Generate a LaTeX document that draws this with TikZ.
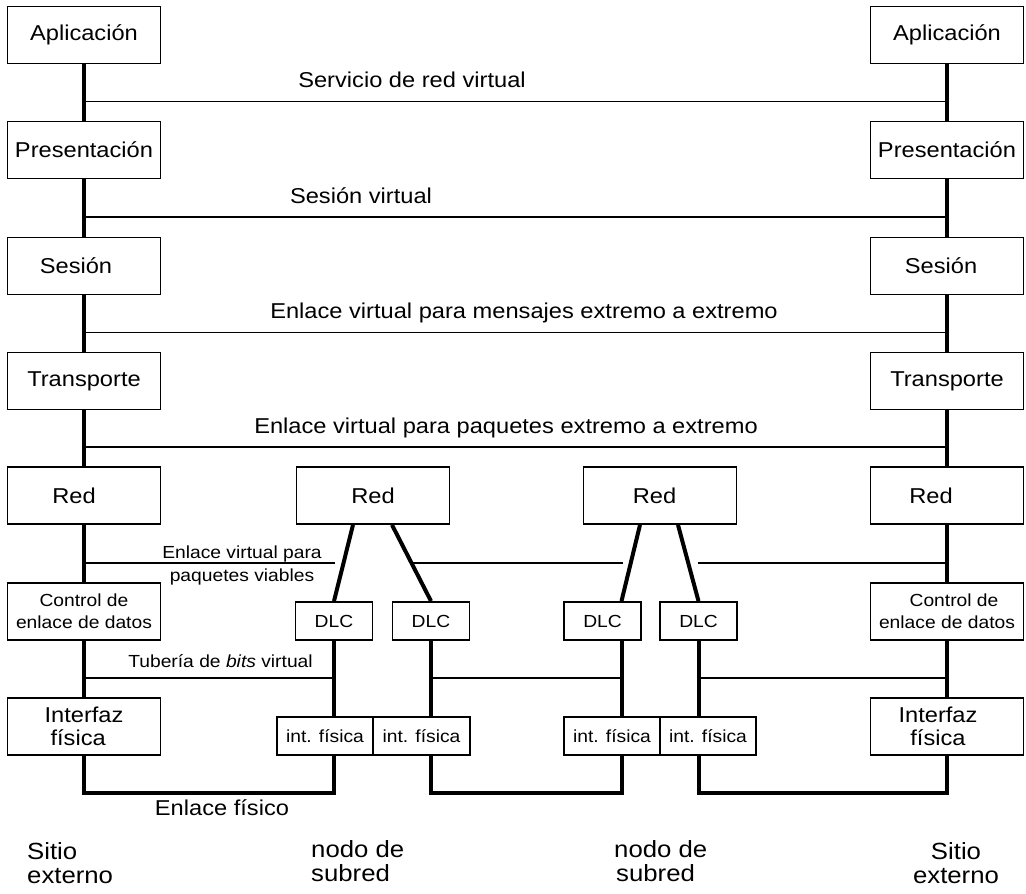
\documentclass[tikz,border=0pt]{standalone}
\usepackage{fontspec}
\setmainfont{Liberation Sans}[FakeStretch=1.1]
\usetikzlibrary{calc}

\newcommand\layerfont{\fontsize{21.5}{23}\selectfont}
\newcommand\smallfont{\fontsize{17.5}{22}\selectfont}
\newcommand\linkfont{\fontsize{17.5}{23.5}\selectfont}
\newcommand\sitefont{\fontsize{23.4}{24.5}\selectfont}

\tikzset{
  layer/.style={draw, line width=1.8pt, inner sep=0pt, minimum width=153pt,
                minimum height=57pt, align=center, font=\layerfont},
  dlcbox/.style={draw, line width=1.8pt, inner sep=0pt, minimum width=77pt,
                 minimum height=38pt, font=\smallfont},
  phybox/.style={draw, line width=1.8pt, inner sep=0pt, minimum width=96pt,
                 minimum height=38pt, font=\smallfont},
  stack/.style={line width=4pt},
  virt/.style={line width=1.8pt},
  tag/.style={inner sep=0pt, font=\layerfont},
  site/.style={inner sep=0pt, font=\sitefont}
}

\begin{document}
\begin{tikzpicture}[x=1pt, y=-1pt]
\useasboundingbox (0,0) rectangle (1026,894);

% ---- end system, left
\node[layer] (aL) at (84,35)    {Aplicación};
\node[layer] (pL) at (84,150)   {Presentación};
\node[layer] (sL) at (84,266)   {Sesión\hspace*{16pt}};
\node[layer] (tL) at (84,381)   {Transporte};
\node[layer] (nL) at (84,495.5) {Red\hspace*{20pt}};
\node[layer, font=\smallfont] (cL) at (84,611.5) {Control de\\enlace de datos};
\node[layer, align=left] (fL) at (84,726.5) {Interfaz\\\hspace*{6pt}física};

% ---- end system, right
\node[layer] (aR) at (947,35)    {Aplicación};
\node[layer] (pR) at (947,150)   {Presentación};
\node[layer] (sR) at (947,266)   {Sesión\hspace*{12pt}};
\node[layer] (tR) at (947,381)   {Transporte};
\node[layer] (nR) at (947,495.5) {Red\hspace*{32pt}};
\node[layer, font=\smallfont] (cR) at (947,611.5) {\hspace*{14pt}Control de\\enlace de datos};
\node[layer] (fR) at (947,726.5) {Interfaz\hspace*{18pt}\\física\hspace*{18pt}};

% ---- subnet node 1
\node[layer] (n2) at (373,495.5) {Red};
\node[dlcbox] (d1) at (334,621) {DLC};
\node[dlcbox] (d2) at (431,621) {DLC};
\node[phybox] (i1) at (325,736) {int. física};
\node[phybox, minimum width=97pt] (i2) at (421.5,736) {int. física};

% ---- subnet node 2
\node[layer] (n3) at (660,495.5) {Red\hspace*{11pt}};
\node[dlcbox] (d3) at (602.5,621) {DLC};
\node[dlcbox] (d4) at (698.5,621) {DLC};
\node[phybox] (i3) at (612,736) {int. física};
\node[phybox] (i4) at (708,736) {int. física};
\coordinate (d3p) at (621.5,621);

% ---- protocol stacks
\foreach \u/\l in {aL/pL, pL/sL, sL/tL, tL/nL, nL/cL, cL/fL,
                   aR/pR, pR/sR, sR/tR, tR/nR, nR/cR, cR/fR}
  \draw[stack] (\u.south) -- (\l.north);

\draw[stack] ($(n2.south)+(-20,0)$) -- (d1.north);
\draw[stack] ($(n2.south)+(19,0)$)  -- (d2.north);
\draw[stack] ($(n3.south)+(-20,0)$) -- (d3.north -| d3p);
\draw[stack] ($(n3.south)+(18,0)$)  -- (d4.north);

\draw[stack] (d1.south) -- (d1.south |- i1.north);
\draw[stack] (d2.south) -- (d2.south |- i2.north);
\draw[stack] (d3.south -| d3p) -- (d3p |- i3.north);
\draw[stack] (d4.south) -- (d4.south |- i4.north);

% ---- physical links
\draw[stack] (fL.south) -- ++(0,37) -| (d1.south |- i1.south);
\draw[stack] (d2.south |- i2.south) -- ++(0,37) -| (d3p |- i3.south);
\draw[stack] (d4.south |- i4.south) -- ++(0,37) -| (fR.south);

% ---- end-to-end virtual links
\draw[virt] ($(aL.south)!.66!(pL.north)$) -- ($(aR.south)!.66!(pR.north)$);
\draw[virt] ($(pL.south)!.66!(sL.north)$) -- ($(pR.south)!.66!(sR.north)$);
\draw[virt] ($(sL.south)!.66!(tL.north)$) -- ($(sR.south)!.66!(tR.north)$);
\draw[virt] ($(tL.south)!.66!(nL.north)$) -- ($(tR.south)!.66!(nR.north)$);

% ---- hop-by-hop virtual links
\coordinate (vL) at ($(nL.south)!.66!(cL.north)$);
\coordinate (vR) at ($(nR.south)!.66!(cR.north)$);
\coordinate (gA) at (335,0);
\coordinate (gB) at (411,0);
\coordinate (gC) at (623,0);
\coordinate (gD) at (698,0);
\draw[virt] (vL) -- (vL -| gA);
\draw[virt] (vL -| gB) -- (vL -| gC);
\draw[virt] (vL -| gD) -- (vR);

\coordinate (bL) at ($(cL.south)!.66!(fL.north)$);
\coordinate (bR) at ($(cR.south)!.66!(fR.north)$);
\draw[virt] (bL) -- (bL -| d1.south);
\draw[virt] (bL -| d2.south) -- (bL -| d3p);
\draw[virt] (bL -| d4.south) -- (bR);

% ---- link labels
\node[tag, anchor=base] (l1) at (412,87)  {Servicio de red virtual};
\node[tag, anchor=base] (l2) at (361,203) {Sesión virtual};
\node[tag, anchor=base] (l3) at (524,318) {Enlace virtual para mensajes extremo a extremo};
\node[tag, anchor=base] (l4) at (506,433) {Enlace virtual para paquetes extremo a extremo};
\node[tag, font=\linkfont, align=center] (l5) at (242,565.5) {Enlace virtual para\\paquetes viables};
\node[tag, font=\smallfont, anchor=base] (l6) at (220.5,667) {Tubería de \textit{bits} virtual};
\node[tag, anchor=base] (l7) at (222,815) {Enlace físico};

% ---- site labels
\node[site, align=left, anchor=north west] (s1) at (27,842) {Sitio\\externo};
\node[site, align=left, anchor=north west] (s2) at (311,840) {nodo de\\subred};
\node[site, align=left, anchor=north west] (s3) at (614,840) {nodo de\\\hspace*{2pt}subred};
\node[site, align=center, anchor=north] (s4) at (956,842) {Sitio\\externo};
\end{tikzpicture}
\end{document}
